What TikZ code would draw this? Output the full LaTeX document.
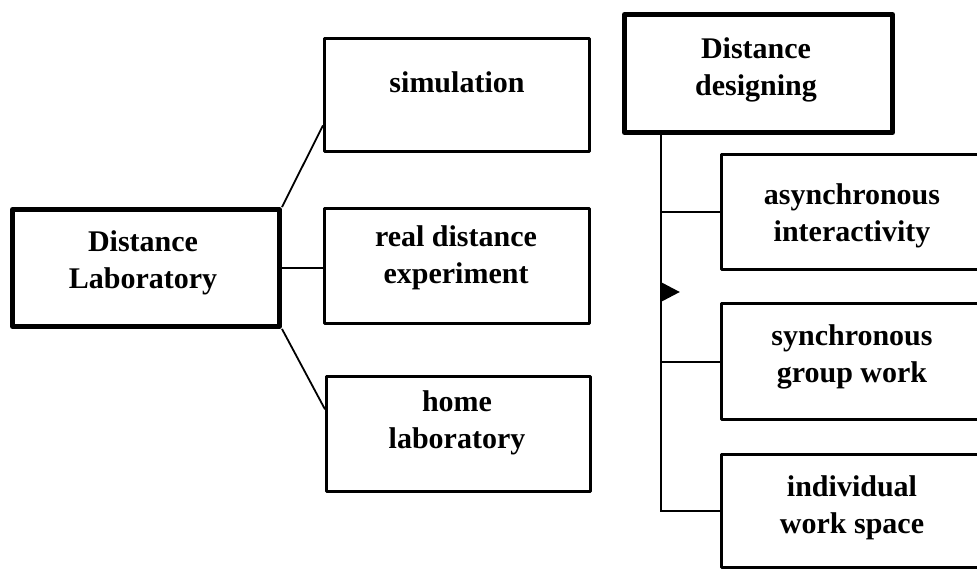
\documentclass[tikz,border=0pt]{standalone}
\usepackage{fontspec}
\setmainfont{Liberation Serif}
\usetikzlibrary{calc}
\begin{document}
\begin{tikzpicture}[x=1pt,y=-1pt,
  box/.style={draw=black, line width=3.4pt, inner sep=0pt, anchor=north west, line join=round},
  mainbox/.style={box, line width=5pt},
  lbl/.style={align=center, inner sep=0pt, font=\fontsize{30}{37}\selectfont\bfseries},
  conn/.style={draw=black, line width=1.8pt}]
\useasboundingbox (0,0) rectangle (977,568);
\clip (0,0) rectangle (977,568);
% left group
\node[mainbox, minimum width=267pt, minimum height=117pt] (dl) at (10,207) {};
\node[box, minimum width=265pt, minimum height=113pt] (sim) at (323,37) {};
\node[box, minimum width=265pt, minimum height=115pt] (real) at (323,207) {};
\node[box, minimum width=264pt, minimum height=115pt] (home) at (325,375) {};
\node[lbl] (dlt) at (143,263) {Distance\\Laboratory};
\node[lbl] (simt) at (457,82) {simulation};
\node[lbl] (realt) at (456,258) {real distance\\experiment};
\node[lbl] (homet) at (457,423) {home\\laboratory};
\coordinate (simin) at ($(sim.south west)!0.24!(sim.north west)$);
\coordinate (homein) at ($(home.north west)!0.29!(home.south west)$);
\draw[conn] (dl.north east) -- (simin);
\draw[conn] (dl.east) -- (dl.east -| real.west);
\draw[conn] (dl.south east) -- (homein);
% right group
\node[mainbox, minimum width=268pt, minimum height=118pt] (dd) at (622,12) {};
\node[box, minimum width=265pt, minimum height=115pt] (async) at (720,153) {};
\node[box, minimum width=265pt, minimum height=116pt] (sync) at (720,302) {};
\node[box, minimum width=265pt, minimum height=113pt] (indiv) at (720,453) {};
\node[lbl] (ddt) at (756,70) {Distance\\designing};
\node[lbl] (asynct) at (852,216) {asynchronous\\interactivity};
\node[lbl] (synct) at (852,357) {synchronous\\group work};
\node[lbl] (indivt) at (852,508) {individual\\work space};
\coordinate (trunk) at ($(dd.south west)!0.142!(dd.south east)$);
\draw[conn] (trunk) |- (indiv.west);
\draw[conn] (trunk |- async.west) -- (async.west);
\draw[conn] (trunk |- sync.west) -- (sync.west);
\coordinate (tri) at (trunk |- 0,282);
\fill[black] (tri) -- ++(19,10) -- ++(-19,10) -- cycle;
\end{tikzpicture}
\end{document}
